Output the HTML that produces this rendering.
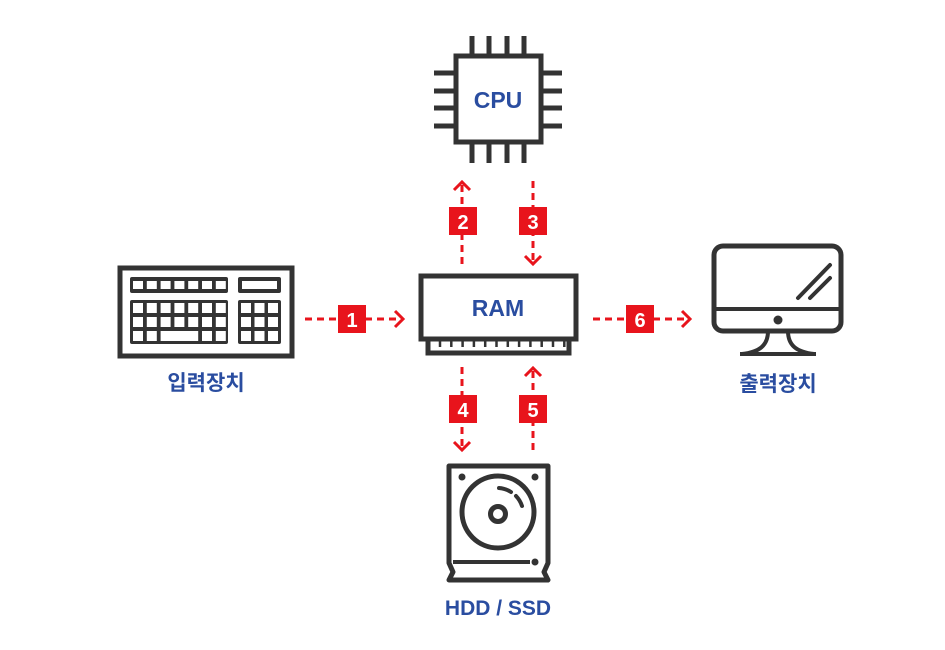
<!DOCTYPE html>
<html><head><meta charset="utf-8"><style>
html,body{margin:0;padding:0;background:#fff;width:945px;height:650px;overflow:hidden}
svg{display:block}
.lbl{font-family:"Liberation Sans","Noto Sans CJK KR",sans-serif;font-weight:bold;fill:#2a4da0;text-anchor:middle}
.num{font-family:"Liberation Sans",sans-serif;font-weight:bold;fill:#fff;text-anchor:middle;font-size:20px}
.d{stroke:#333;stroke-width:5;fill:none}
.ar{stroke:#e8141c;stroke-width:3;fill:none;stroke-dasharray:7 5}
.ah{stroke:#e8141c;stroke-width:3;fill:none}
</style></head><body>
<svg id="s" width="945" height="650" viewBox="0 0 945 650" xmlns="http://www.w3.org/2000/svg">
<rect x="456" y="56" width="85" height="86" class="d"/>
<g stroke="#333" stroke-width="5">
<line x1="472" y1="36" x2="472" y2="56"/><line x1="489" y1="36" x2="489" y2="56"/><line x1="507" y1="36" x2="507" y2="56"/><line x1="524" y1="36" x2="524" y2="56"/>
<line x1="472" y1="142" x2="472" y2="163"/><line x1="489" y1="142" x2="489" y2="163"/><line x1="507" y1="142" x2="507" y2="163"/><line x1="524" y1="142" x2="524" y2="163"/>
<line x1="434" y1="73" x2="456" y2="73"/><line x1="434" y1="91" x2="456" y2="91"/><line x1="434" y1="108" x2="456" y2="108"/><line x1="434" y1="126" x2="456" y2="126"/>
<line x1="541" y1="73" x2="562" y2="73"/><line x1="541" y1="91" x2="562" y2="91"/><line x1="541" y1="108" x2="562" y2="108"/><line x1="541" y1="126" x2="562" y2="126"/>
</g>
<text x="498" y="108" class="lbl" font-size="23">CPU</text>

<rect x="421" y="276" width="155" height="63" class="d"/>
<rect x="428" y="339" width="141" height="14" class="d" stroke-width="4"/>
<g id="ramteeth" stroke="#333" stroke-width="2.5"></g>
<text x="498" y="316" class="lbl" font-size="23">RAM</text>

<line x1="462" y1="185" x2="462" y2="266" class="ar"/>
<polyline points="454,190 462,182 470,190" class="ah"/>
<rect x="449" y="207" width="28" height="28" fill="#e8141c"/><text x="463" y="229" class="num">2</text>
<line x1="533" y1="181" x2="533" y2="262" class="ar"/>
<polyline points="525,256 533,264 541,256" class="ah"/>
<rect x="519" y="207" width="28" height="28" fill="#e8141c"/><text x="533" y="229" class="num">3</text>

<line x1="462" y1="367" x2="462" y2="448" class="ar"/>
<polyline points="454,442 462,450 470,442" class="ah"/>
<rect x="449" y="395" width="28" height="28" fill="#e8141c"/><text x="463" y="417" class="num">4</text>
<line x1="533" y1="371" x2="533" y2="450" class="ar"/>
<polyline points="525,376 533,368 541,376" class="ah"/>
<rect x="519" y="395" width="28" height="28" fill="#e8141c"/><text x="533" y="417" class="num">5</text>

<line x1="305" y1="319" x2="400" y2="319" class="ar"/>
<polyline points="395,311 403,319 395,327" class="ah"/>
<rect x="338" y="305" width="28" height="28" fill="#e8141c"/><text x="352" y="327" class="num">1</text>
<line x1="593" y1="319" x2="688" y2="319" class="ar"/>
<polyline points="682,311 690,319 682,327" class="ah"/>
<rect x="626" y="305" width="28" height="28" fill="#e8141c"/><text x="640" y="327" class="num">6</text>

<rect x="120" y="268" width="172" height="88" class="d" stroke-width="4"/>
<rect x="130" y="277" width="98" height="16" fill="#333" rx="2"/>
<rect x="238" y="277" width="43" height="16" fill="#333" rx="2"/>
<rect x="242" y="281" width="35" height="8" fill="#fff"/>
<rect x="130" y="300" width="98" height="44" fill="#333" rx="2"/>
<rect x="238" y="300" width="43" height="44" fill="#333" rx="2"/>
<g id="keys" fill="#fff"></g>
<text x="206" y="390" class="lbl" font-size="21">입력장치</text>

<rect x="714" y="246" width="127" height="85" rx="9" class="d"/>
<line x1="714" y1="309" x2="841" y2="309" stroke="#333" stroke-width="4"/>
<circle cx="778" cy="320" r="4.5" fill="#333"/>
<path d="M768,331 C768,345 760,352 742,354 L814,354 C796,352 788,345 788,331" stroke="#333" stroke-width="4" fill="none"/>
<line x1="740" y1="354" x2="816" y2="354" stroke="#333" stroke-width="4"/>
<line x1="798" y1="298" x2="830" y2="265" stroke="#333" stroke-width="4" stroke-linecap="round"/>
<line x1="810" y1="298" x2="830" y2="278" stroke="#333" stroke-width="4" stroke-linecap="round"/>
<text x="778" y="391" class="lbl" font-size="21">출력장치</text>

<path d="M449,466 L548,466 L548,563 L544,572 L548,580 L449,580 L453,572 L449,563 Z" class="d" stroke-linejoin="round"/>
<line x1="453" y1="562" x2="530" y2="562" stroke="#333" stroke-width="4"/>
<circle cx="535" cy="562" r="3.5" fill="#333"/>
<circle cx="462" cy="477" r="3.5" fill="#333"/><circle cx="535" cy="477" r="3.5" fill="#333"/>
<circle cx="498" cy="512" r="36" class="d" stroke-width="4"/>
<circle cx="498" cy="514" r="7.5" class="d" stroke-width="4"/>
<path d="M499,488 A26,26 0 0 1 511,492" stroke="#333" stroke-width="4" fill="none" stroke-linecap="round"/>
<path d="M516,496 A26,26 0 0 1 522,506" stroke="#333" stroke-width="4" fill="none" stroke-linecap="round"/>
<text x="498" y="615" class="lbl" font-size="21">HDD / SSD</text>
</svg>
<script>
var ns="http://www.w3.org/2000/svg",k=document.getElementById('keys'),t=document.getElementById('ramteeth');
function r(x,y,w,h,p){var e=document.createElementNS(ns,'rect');e.setAttribute('x',x);e.setAttribute('y',y);e.setAttribute('width',w);e.setAttribute('height',h);p.appendChild(e);}
for(var i=0;i<7;i++)r(133+i*13.8,281,10,8,k);
for(var row=0;row<3;row++)for(var c=0;c<7;c++){if(row==2&&c>=2&&c<=4){if(c==2)r(133+2*13.8,303+row*14,10+2*13.8,10,k);continue;}r(133+c*13.8,303+row*14,10,10,k);}
for(var row=0;row<3;row++)for(var c=0;c<3;c++)r(241+c*13.5,303+row*14,10,10,k);
for(var i=0;i<12;i++){var l=document.createElementNS(ns,'line');var x=440+i*11.3;l.setAttribute('x1',x);l.setAttribute('x2',x);l.setAttribute('y1',341);l.setAttribute('y2',347);t.appendChild(l);}
</script>
</body></html>
